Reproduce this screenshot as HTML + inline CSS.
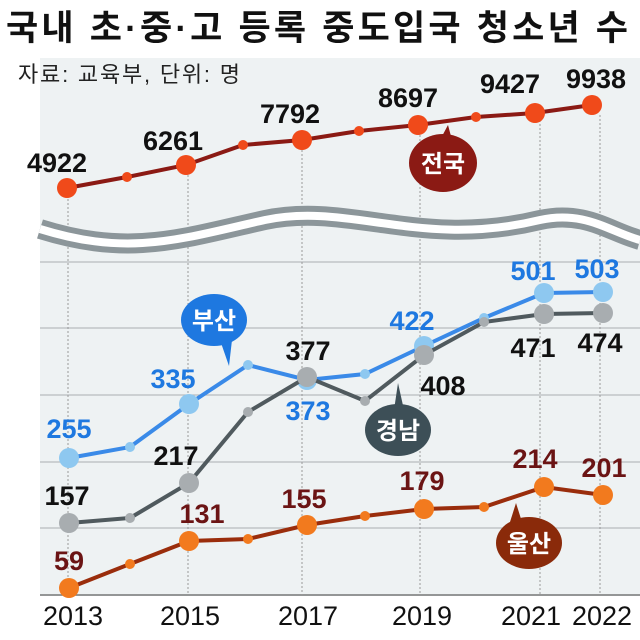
<!DOCTYPE html>
<html><head><meta charset="utf-8"><style>
body{margin:0;background:#fff;}
svg{display:block}
.n{font-family:"Liberation Sans Narrow","Liberation Sans",sans-serif;font-size:27px;font-weight:bold;text-anchor:middle}
.k{font-family:"Liberation Sans","Noto Sans CJK KR",sans-serif;font-weight:bold;text-anchor:middle;fill:#fff;font-size:24px}
</style></head><body>
<svg width="640" height="640" viewBox="0 0 640 640" xmlns="http://www.w3.org/2000/svg">
<rect x="40" y="58" width="600" height="538" fill="#eef2f3"/>
<text x="6" y="40" font-family="'Liberation Sans','Noto Sans CJK KR',sans-serif" font-weight="bold" font-size="35" textLength="622" fill="#111">국내 초·중·고 등록 중도입국 청소년 수</text>
<text x="18" y="82" font-family="'Liberation Sans','Noto Sans CJK KR',sans-serif" font-size="22" textLength="222" fill="#222">자료: 교육부,  단위: 명</text>
<g stroke="#b8bcbe" stroke-width="1.2">
<line x1="40" y1="262" x2="640" y2="262"/><line x1="40" y1="328" x2="640" y2="328"/><line x1="40" y1="395" x2="640" y2="395"/><line x1="40" y1="462" x2="640" y2="462"/><line x1="40" y1="528" x2="640" y2="528"/>
</g>
<line x1="40" y1="595" x2="640" y2="595" stroke="#777" stroke-width="1.5"/>
<g stroke="#999" stroke-width="1" stroke-dasharray="2,2">
<line x1="68" y1="195" x2="68" y2="595"/><line x1="188" y1="175" x2="188" y2="595"/><line x1="302" y1="150" x2="302" y2="595"/><line x1="420" y1="135" x2="420" y2="595"/><line x1="540" y1="120" x2="540" y2="595"/><line x1="600" y1="115" x2="600" y2="595"/>
</g>
<!-- wave -->
<path d="M40,229 C130,257 180,239 265,220 C350,202 420,249 540,220 C585,210 610,232 640,240" stroke="#8c969a" stroke-width="20" fill="none"/>
<path d="M40,229 C130,257 180,239 265,220 C350,202 420,249 540,220 C585,210 610,232 640,240" stroke="#fff" stroke-width="8" fill="none"/>
<!-- national -->
<polyline points="67,188 127,177 186,165 243,145 302,140 359,131 418,125 476,117 535,113 592,105" fill="none" stroke="#8b1a14" stroke-width="4"/>
<g fill="#f04a1a"><circle cx="67" cy="188" r="10"/><circle cx="127" cy="177" r="5"/><circle cx="186" cy="165" r="10"/><circle cx="243" cy="145" r="5"/><circle cx="302" cy="140" r="10"/><circle cx="359" cy="131" r="5"/><circle cx="418" cy="125" r="10"/><circle cx="476" cy="117" r="5"/><circle cx="535" cy="113" r="10"/><circle cx="592" cy="105" r="10"/></g>
<g class="n" fill="#111"><text x="57" y="172">4922</text><text x="173" y="150">6261</text><text x="290" y="123">7792</text><text x="408" y="107">8697</text><text x="510" y="93">9427</text><text x="596" y="88">9938</text></g>
<path d="M440,140 L448,125 L452,140 Z" fill="#8b1a14"/><ellipse cx="443" cy="163" rx="34" ry="29" fill="#8b1a14"/><text class="k" x="443" y="172">전국</text>
<!-- busan -->
<polyline points="69,458 130,447 189,404 248,365 307,380 365,374 424,346 484,318 544,293 603,292" fill="none" stroke="#3a8ae8" stroke-width="4"/>
<g fill="#8ec8f0"><circle cx="69" cy="458" r="10"/><circle cx="130" cy="447" r="5"/><circle cx="189" cy="404" r="10"/><circle cx="248" cy="365" r="5"/><circle cx="307" cy="380" r="10"/><circle cx="365" cy="374" r="5"/><circle cx="424" cy="346" r="10"/><circle cx="484" cy="318" r="5"/><circle cx="544" cy="293" r="10"/><circle cx="603" cy="292" r="10"/></g>
<!-- gyeongnam -->
<polyline points="69,523 130,518 189,483 248,412 307,377 365,401 424,355 484,322 544,314 603,313" fill="none" stroke="#505a5e" stroke-width="4"/>
<g fill="#a8adb0"><circle cx="69" cy="523" r="10"/><circle cx="130" cy="518" r="5"/><circle cx="189" cy="483" r="10"/><circle cx="248" cy="412" r="5"/><circle cx="307" cy="377" r="10"/><circle cx="365" cy="401" r="5"/><circle cx="424" cy="355" r="10"/><circle cx="484" cy="322" r="5"/><circle cx="544" cy="314" r="10"/><circle cx="603" cy="313" r="10"/></g>
<!-- ulsan -->
<polyline points="69,588 130,564 189,541 248,539 307,525 365,516 424,509 484,507 544,487 603,495" fill="none" stroke="#9a2d0c" stroke-width="4"/>
<g fill="#f27a1e"><circle cx="69" cy="588" r="10"/><circle cx="130" cy="564" r="5"/><circle cx="189" cy="541" r="10"/><circle cx="248" cy="539" r="5"/><circle cx="307" cy="525" r="10"/><circle cx="365" cy="516" r="5"/><circle cx="424" cy="509" r="10"/><circle cx="484" cy="507" r="5"/><circle cx="544" cy="487" r="10"/><circle cx="603" cy="495" r="10"/></g>
<g class="n" fill="#1e78e0"><text x="69" y="438">255</text><text x="173" y="388">335</text><text x="308" y="420">373</text><text x="412" y="330">422</text><text x="533" y="280">501</text><text x="597" y="278">503</text></g>
<g class="n" fill="#111"><text x="67" y="505">157</text><text x="176" y="465">217</text><text x="308" y="360">377</text><text x="443" y="395">408</text><text x="533" y="357">471</text><text x="600" y="352">474</text></g>
<g class="n" fill="#6b1414"><text x="69" y="570">59</text><text x="202" y="523">131</text><text x="304" y="508">155</text><text x="422" y="490">179</text><text x="535" y="468">214</text><text x="604" y="477">201</text></g>
<path d="M220,340 L229,366 L232,340 Z" fill="#1e78e0"/><ellipse cx="214" cy="320" rx="33" ry="26" fill="#1e78e0"/><text class="k" x="214" y="329">부산</text>
<path d="M394,410 L398,383 L404,410 Z" fill="#3d4f57"/><ellipse cx="398" cy="430" rx="33" ry="26" fill="#3d4f57"/><text class="k" x="398" y="439">경남</text>
<path d="M510,522 L516,503 L522,522 Z" fill="#8a2a0a"/><ellipse cx="529" cy="543" rx="33" ry="26" fill="#8a2a0a"/><text class="k" x="529" y="552">울산</text>
<g class="n" fill="#111" style="font-weight:normal"><text x="73" y="625">2013</text><text x="190" y="625">2015</text><text x="308" y="625">2017</text><text x="422" y="625">2019</text><text x="531" y="625">2021</text><text x="602" y="625">2022</text></g>
</svg>
</body></html>
